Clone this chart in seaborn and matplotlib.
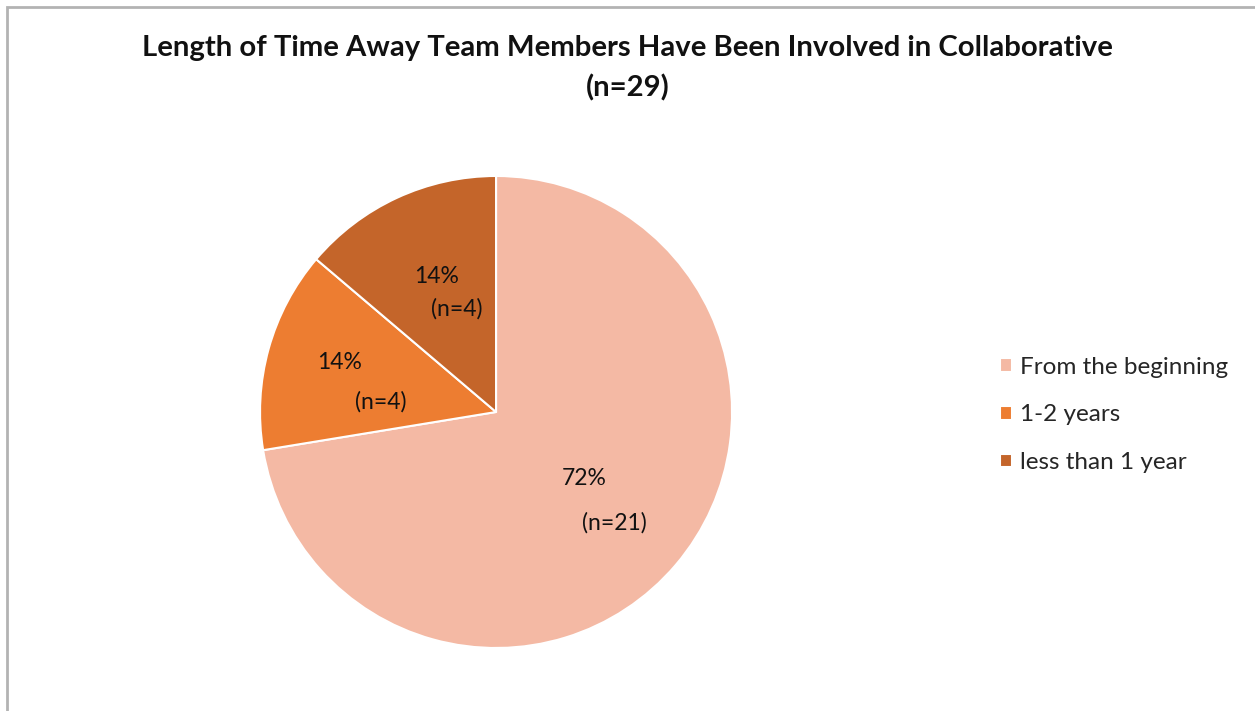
import matplotlib
matplotlib.use("Agg")
import matplotlib.pyplot as plt
from matplotlib.patches import Rectangle
import seaborn as sns

# Survey results
categories = ["From the beginning", "1-2 years", "less than 1 year"]
counts = [21, 4, 4]
percent_labels = ["72%", "14%", "14%"]
n_total = 29

sns.set_theme(style="white")
plt.rcParams["font.family"] = ["Lato", "DejaVu Sans"]

colors = sns.color_palette(["#F4B9A4", "#ED7D31", "#C4652A"])

fig = plt.figure(figsize=(12.55, 7.11), dpi=100)
fig.patch.set_facecolor("white")

# Chart-area frame
fig.add_artist(Rectangle((7 / 1255, -0.1), 1.2, 1 - 7 / 711 + 0.1,
                         transform=fig.transFigure, fill=False,
                         edgecolor="#B3B3B3", linewidth=2))

ax = fig.add_axes([0.2072, 0.0886, 0.3761, 0.6639])
wedges, _ = ax.pie(counts, colors=colors, startangle=90, counterclock=False,
                   radius=1.0,
                   wedgeprops=dict(edgecolor="white", linewidth=1.5))
ax.set_xlim(-1, 1)
ax.set_ylim(-1, 1)
ax.set_aspect("equal")
ax.axis("off")

# Data labels: percentage line and count line, placed inside each slice
pct_pos = [(0.373, -0.28), (-0.661, 0.208), (-0.254, 0.576)]
cnt_pos = [(0.50, -0.47), (-0.487, 0.042), (-0.165, 0.436)]
for pct, c, p1, p2 in zip(percent_labels, counts, pct_pos, cnt_pos):
    ax.text(*p1, pct, ha="center", va="center", fontsize=16.5, color="#111111")
    ax.text(*p2, f"(n={c})", ha="center", va="center", fontsize=16.5, color="#111111")

fig.text(0.5, 0.932,
         "Length of Time Away Team Members Have Been Involved in Collaborative",
         ha="center", va="center", fontsize=21.1, fontweight="bold", color="#111111")
fig.text(0.5, 0.877, f"(n={n_total})", ha="center", va="center",
         fontsize=21.1, fontweight="bold", color="#111111")

fig.legend(wedges, categories, loc="center left", bbox_to_anchor=(0.797, 0.4165),
           frameon=False, fontsize=17.5, handlelength=0.5, handleheight=0.5,
           handletextpad=0.3, labelspacing=1.1, borderaxespad=0, borderpad=0)

fig.savefig("out.png", dpi=100, facecolor="white")
